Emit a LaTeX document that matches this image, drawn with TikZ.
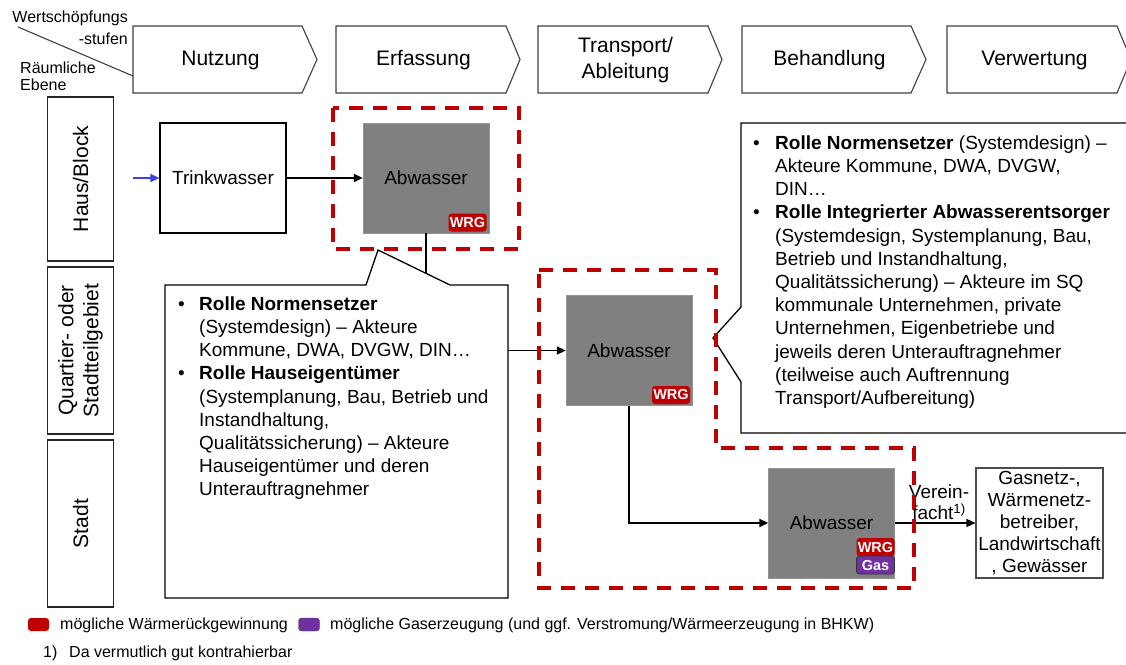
\documentclass[tikz,border=0pt]{standalone}
\usepackage{fontspec}
\setmainfont{Liberation Sans}
\usetikzlibrary{arrows.meta,calc}
\definecolor{wrgred}{HTML}{C00000}
\definecolor{gaspurple}{HTML}{7030A0}
\definecolor{abgray}{HTML}{808080}
\definecolor{chevgray}{HTML}{404040}
\definecolor{arrblue}{HTML}{3F3FE0}
\newcommand{\myfs}[2]{\fontsize{#1}{#2}\selectfont}
\begin{document}
\begin{tikzpicture}[x=1pt,y=-1pt,
  chev/.style={draw=chevgray, line width=1.1pt, fill=white},
  chevtext/.style={font=\myfs{21}{26}, align=center, inner sep=0},
  rowbox/.style={draw=black!85, line width=1.1pt, minimum width=66pt, inner sep=0},
  rowtext/.style={rotate=90, font=\myfs{21}{25}, align=center, inner sep=0},
  plainbox/.style={draw=black, line width=1.2pt, fill=white, minimum width=126pt, minimum height=110pt, inner sep=0, font=\myfs{19}{23}},
  abbox/.style={fill=abgray, draw=abgray!85!white, minimum width=126pt, minimum height=110pt, inner sep=0, font=\myfs{19}{23}},
  flow/.style={line width=1.8pt, -{Triangle[length=9pt,width=8pt]}},
  redzone/.style={draw=wrgred, line width=3.6pt, dash pattern=on 14pt off 10pt},
  callout/.style={draw=black, line width=1.3pt, fill=white},
  ctext/.style={anchor=north west, inner sep=0, align=left, font=\myfs{19}{23.2}},
  badge/.style={rounded corners=3pt, inner sep=0, minimum width=38pt, minimum height=18pt, text=white, font=\myfs{14.5}{15}\bfseries},
  small/.style={font=\myfs{16}{19}, inner sep=0},
]
\useasboundingbox (0,0) rectangle (1126,664);

% header chevrons
\draw[chev] (133,26) -- ++(169,0) -- ++(15,33.5) -- ++(-15,33.5) -- ++(-169,0) -- cycle;
\node[chevtext] (s1) at (220.5,60) {Nutzung};
\draw[chev] (336,26) -- ++(170,0) -- ++(14,33.5) -- ++(-14,33.5) -- ++(-170,0) -- cycle;
\node[chevtext] (s2) at (423.5,60) {Erfassung};
\draw[chev] (538,26) -- ++(170,0) -- ++(14,33.5) -- ++(-14,33.5) -- ++(-170,0) -- cycle;
\node[chevtext] (s3) at (625.5,60) {Transport/\\Ableitung};
\draw[chev] (742,26) -- ++(169,0) -- ++(15,33.5) -- ++(-15,33.5) -- ++(-169,0) -- cycle;
\node[chevtext] (s4) at (829.5,60) {Behandlung};
\draw[chev] (947,26) -- ++(170,0) -- ++(14,33.5) -- ++(-14,33.5) -- ++(-170,0) -- cycle;
\node[chevtext] (s5) at (1034.5,60) {Verwertung};

% corner labels
\coordinate (d1) at (18,27);
\coordinate (d2) at (133,76);
\draw[line width=1.1pt, chevgray] (d1) -- (d2);
\node[small, anchor=east] (w1) at (128,18) {Wertschöpfungs};
\node[small, anchor=east] (w2) at (128,39) {-stufen};
\node[small, anchor=west] (r1) at (20,68) {Räumliche};
\node[small, anchor=west] (r2) at (20,85) {Ebene};

% row labels
\node[rowbox, minimum height=164pt] (rb1) at (80.5,179) {};
\node[rowtext] (rt1) at (rb1) {Haus/Block};
\node[rowbox, minimum height=167pt] (rb2) at (80.5,350.5) {};
\node[rowtext] (rt2) at (rb2) {Quartier- oder\\Stadtteilgebiet};
\node[rowbox, minimum height=167pt] (rb3) at (80.5,523.5) {};
\node[rowtext] (rt3) at (rb3) {Stadt};

% boxes
\node[plainbox] (tw) at (223,178) {Trinkwasser};
\node[abbox] (ab1) at (426,178) {Abwasser};
\node[abbox] (ab2) at (629,350.5) {Abwasser};
\node[abbox] (ab3) at (831.5,523) {Abwasser};
\node[plainbox, draw=black!70, line width=1.1pt, minimum width=127pt, font=\myfs{19}{22}, align=center] (fin) at (1039.5,523)
  {Gasnetz-,\\Wärmenetz-\\betreiber,\\Landwirtschaft\\, Gewässer};

% connectors
\coordinate (bluestart) at (133,178);
\draw[flow, line width=1.5pt, draw=arrblue] (bluestart) -- (tw.west);
\draw[flow] (tw.east) -- (ab1.west);
\draw[flow] (ab1.south) |- (ab2.west);
\draw[flow] (ab2.south) |- (ab3.west);
\draw[flow, line width=1.3pt] (ab3.east) -- (fin.west);

% callouts
\draw[callout] (165,285) -- (366,285) -- (378,250) -- (450,285) -- (508,285) -- (508,598) -- (165,598) -- cycle;
\node[ctext] (b1) at (178,293.8) {\strut•\\\strut\\\strut\\\strut•};
\node[ctext] (c1) at (199,293.8) {\strut\textbf{Rolle Normensetzer}\\(Systemdesign) – Akteure\\Kommune, DWA, DVGW, DIN…\\\textbf{Rolle Hauseigentümer}\\(Systemplanung, Bau, Betrieb und\\Instandhaltung,\\Qualitätssicherung) – Akteure\\Hauseigentümer und deren\\Unterauftragnehmer};

\draw[callout] (741,123) -- (1135,123) -- (1135,433) -- (741,433) -- (741,382) -- (713,338) -- (741,307) -- cycle;
\node[ctext] (b2) at (753,132.8) {\strut•\\\strut\\\strut\\\strut•};
\node[ctext] (c2) at (775,132.8) {\strut\textbf{Rolle Normensetzer} (Systemdesign) –\\Akteure Kommune, DWA, DVGW,\\DIN…\\\textbf{Rolle Integrierter Abwasserentsorger}\\(Systemdesign, Systemplanung, Bau,\\Betrieb und Instandhaltung,\\Qualitätssicherung) – Akteure im SQ\\kommunale Unternehmen, private\\Unternehmen, Eigenbetriebe und\\jeweils deren Unterauftragnehmer\\(teilweise auch Auftrennung\\Transport/Aufbereitung)};

% badges
\node[badge, fill=wrgred] (g1) at (467.5,222.5) {WRG};
\node[badge, fill=wrgred] (g2) at (671,395) {WRG};
\node[badge, fill=wrgred] (g3) at (875.5,547) {WRG};
\node[badge, fill=gaspurple, draw=black!80, line width=0.8pt] (g4) at (875.5,565) {Gas};

% label on last connector
\node[font=\myfs{19}{21}, align=center, inner sep=0] (vf) at (939,502) {Verein-\\facht\textsuperscript{1)}};

% red zones
\draw[redzone] (333,108) rectangle (519,249);
\draw[redzone] (539,270) -- (716,270) -- (716,448) -- (914,448) -- (914,588) -- (539,588) -- cycle;

% legend
\node[fill=wrgred, rounded corners=3pt, minimum width=21pt, minimum height=13pt, inner sep=0] (lg1) at (38.5,624.5) {};
\node[small, anchor=west] (lt1) at (60,625) {mögliche Wärmerückgewinnung};
\node[fill=gaspurple, draw=black!70, rounded corners=3pt, minimum width=21pt, minimum height=13pt, inner sep=0] (lg2) at (309,624.5) {};
\node[small, anchor=west] (lt2) at (330,625) {mögliche Gaserzeugung (und ggf. Verstromung/Wärmeerzeugung in BHKW)};
\node[small, anchor=west] (fn1) at (43,653) {1)};
\node[small, anchor=west] (fn2) at (69,653) {Da vermutlich gut kontrahierbar};
\end{tikzpicture}
\end{document}
